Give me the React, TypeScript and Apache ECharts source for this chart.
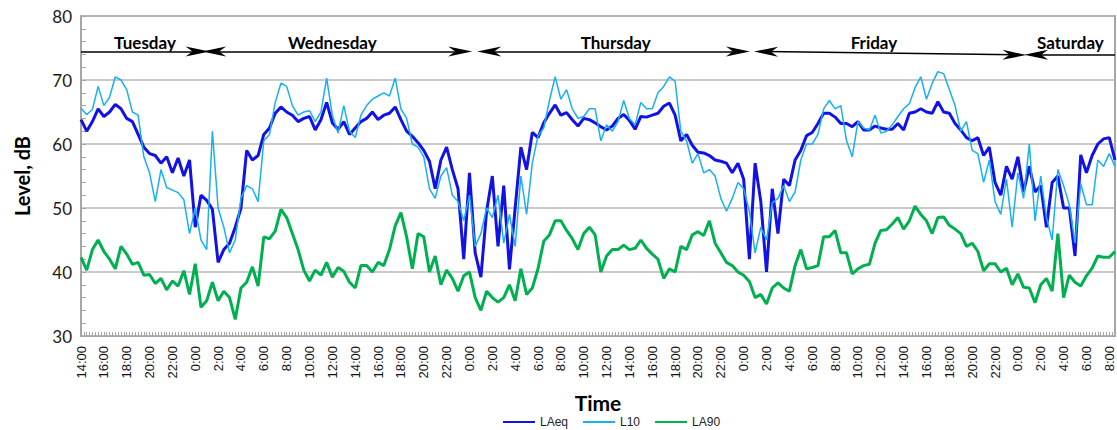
import React, { useEffect, useRef } from "react";
import * as echarts from "echarts";

// time axis: hours after Tuesday 14:00, one reading every half hour
const startHour = 14;
const stepHours = 0.5;

const laeq = [
  63.8, 62, 63.5, 65.5, 64.3, 65, 66.2, 65.5, 64, 63.5,
  61.5, 59.5, 58.5, 58.2, 57, 58, 55.5, 57.8, 55, 57.5,
  47, 52, 51.2, 49.8, 41.5, 43.5, 44.5, 47, 50, 59,
  57.5, 58.2, 61.5, 62.5, 64.8, 65.8, 65, 64.5, 63.5, 64,
  64.3, 62.2, 63.8, 66.5, 63.3, 62.3, 63.5, 61.5, 62.5, 63.5,
  64, 65, 63.8, 64.5, 64.8, 65.8, 63.8, 62, 61.2, 60.2,
  59, 57.3, 53, 57.5, 59.5, 56, 53, 42, 55.5, 43,
  39.2, 49.5, 55, 44, 53.5, 40.4, 50, 59.5, 56, 61.8,
  61, 63.3, 64.8, 66.1, 64.5, 64.9, 63.8, 62.8, 64, 63.8,
  63.3, 62.7, 62.2, 62.8, 64, 64.6, 63.7, 62.3, 64.3, 64.2,
  64.5, 64.8, 65.9, 66.4, 64.5, 60.5, 61.5, 59.8, 58.7, 58.6,
  58.2, 57.5, 57.3, 57, 55.5, 57, 54.5, 42, 57, 51,
  40, 53, 46, 54.5, 53.5, 57.5, 59, 61.3, 61.8, 63.2,
  64.8, 64.8, 64.2, 63.2, 63.2, 62.7, 63.5, 62.2, 62.2, 62.8,
  62.5, 62.3, 62.3, 63.2, 62.2, 64.8, 65, 65.5, 65, 64.8,
  66.6, 65, 64.8, 63.2, 62.2, 61, 60.5, 61, 58.2, 59.5,
  54, 52, 56.5, 54.5, 58, 52.5, 56.5, 52.5, 53.5, 47,
  54, 55, 50, 50, 42.5, 58.3, 55.5, 58.2, 60, 60.8,
  61, 57.5,
];

const l10 = [
  65.6, 64.6, 65.4, 69, 66, 67.3, 70.5, 70, 68.5, 65,
  64.5, 58, 55.5, 51, 56, 53.2, 52.8, 52.4, 51.3, 46,
  50, 45, 43.5, 62, 50, 47, 43, 45, 51.5, 53.5,
  53, 51, 60.5, 61.5, 66.5, 69.5, 69, 66, 64.5, 65,
  65.2, 63.5, 65, 70.3, 64.5, 61.7, 66, 62, 61, 64.5,
  66, 67, 67.5, 68, 67.5, 70.3, 65.5, 64, 60, 59.5,
  58, 53, 51.5, 55, 56.3, 52, 51, 48, 52, 44,
  46, 50, 48.5, 52, 44.5, 49, 44, 55, 49, 57,
  61.3, 62.5, 66.8, 70.5, 67, 68.5, 65.5, 64, 64.3, 65.5,
  65.5, 60.5, 63, 62, 63.5, 66.8, 64, 63, 66.5, 65.5,
  65.5, 68, 69, 70.5, 69.8, 62, 60.5, 57, 58.5, 55.5,
  56, 55, 51.5, 49.5, 51.5, 54, 53, 49.5, 43, 47,
  45, 50.8, 51.5, 53.5, 51, 52.5, 57.5, 60, 60, 61.5,
  65.5, 66.8, 65.5, 66, 60.5, 58, 63.5, 62.5, 62.2, 64.5,
  61.7, 62, 63, 64.3, 65.5, 66.3, 68.8, 70.5, 67, 69.5,
  71.3, 71, 68.5, 66, 62, 63.5, 59, 58.5, 54, 57.5,
  51, 49, 54.5, 47, 55.5, 51.5, 60, 48, 55, 48.5,
  45, 56, 53.5, 50.5, 44.5, 53.8, 50.5, 50.5, 57.5, 56.5,
  58.5, 56.5,
];

const la90 = [
  42.3, 40.3, 43.5, 45, 43.2, 42, 40.5, 44, 42.8, 41.2,
  41.5, 39.5, 39.6, 38.2, 39, 37.2, 38.6, 37.8, 40.2, 36.5,
  41.3, 34.5, 35.5, 38.4, 35.5, 37, 36, 32.6, 37.5, 38.4,
  40.8, 37.8, 45.5, 45.2, 46.4, 49.8, 48.5, 46, 43.5, 40.3,
  38.6, 40.3, 39.5, 41.5, 39.2, 40.7, 40.1, 38.4, 37.5, 41,
  41, 40, 41.5, 41, 43.5, 47.2, 49.3, 45.5, 40.5, 46,
  45.5, 40, 42.5, 38, 40.3, 39, 37, 39.4, 40, 36,
  34, 37, 36, 35.3, 36, 38, 35.5, 40.5, 36.5, 37.5,
  40.5, 44.8, 45.8, 48, 48, 46.5, 45.2, 43.5, 46, 47,
  45.8, 40, 42.5, 43.5, 43.5, 44.2, 43.5, 43.7, 45, 43.7,
  42.8, 42, 39, 40.5, 40, 44, 43.5, 45.8, 46.3, 45.7,
  48, 44.5, 43, 41.5, 41, 40, 39.5, 38.5, 36, 36.5,
  35, 37.5, 38.3, 37.5, 37, 41, 43.5, 40.5, 40.7, 41,
  45.5, 45.5, 46.5, 43, 43, 39.7, 40.5, 41, 41.2, 44.5,
  46.5, 46.6, 47.5, 48.5, 46.7, 48, 50.3, 49, 48, 46,
  48.5, 48.6, 47.3, 46.7, 46, 44, 44.5, 43.2, 40.2, 41.3,
  41.3, 40, 40.6, 38, 39.7, 37.6, 37.5, 35.2, 38, 39,
  37, 46, 36, 39.5, 38.4, 37.8, 39.4, 40.6, 42.5, 42.3,
  42.3, 43.2,
];

// day annotations (hours after Tuesday 14:00, levels in dB)
const dayNames = ["Tuesday", "Wednesday", "Thursday", "Friday", "Saturday"];
const dayLabelHours = [5.6, 22, 46.8, 69.4, 86.6];
const dayLabelLevel = 75.85;
const dayArrowStart = [0, 11.65, 35.73, 59.96, 83.6];
const dayArrowEnd = [10.2, 33.19, 57.5, 81.7, 90.5];
const dayLineStartLevel = [74.44, 74.44, 74.44, 74.44, 73.93];
const dayLineEndLevel = [74.44, 74.44, 74.44, 73.93, 73.93];

const yMin = 30;
const yMax = 80;
const xMax = 90.5;

const ARROW = "path://M0,0 L10,24 L0,17 L-10,24 Z";
const LABEL_FONT = "Lato, 'Open Sans', sans-serif";
const TICK_FONT = "'Liberation Sans', Arial, sans-serif";

const toPairs = (arr: number[]) => arr.map((v, i) => [i * stepHours, v]);

export default function App() {
  const ref = useRef<HTMLDivElement>(null);

  useEffect(() => {
    document.body.style.margin = "0";
    if (!ref.current) return;
    const chart = echarts.init(ref.current, undefined, { renderer: "svg" });

    const markLineData = dayNames.map((_, i) => [
      {
        coord: [dayArrowStart[i], dayLineStartLevel[i]],
        symbol: i === 0 ? "none" : ARROW,
      },
      {
        coord: [dayArrowEnd[i], dayLineEndLevel[i]],
        symbol: i === dayNames.length - 1 ? "none" : ARROW,
      },
    ]);

    const markPointData = dayNames.map((name, i) => ({
      name,
      coord: [dayLabelHours[i], dayLabelLevel],
    }));

    chart.setOption({
      animation: false,
      backgroundColor: "#ffffff",
      grid: {
        left: 81,
        right: 2,
        top: 16,
        bottom: 94,
        show: true,
        borderColor: "#a6a6a6",
        borderWidth: 2,
      },
      legend: {
        data: ["LAeq", "L10", "LA90"],
        left: 497,
        top: 411,
        itemWidth: 32,
        itemHeight: 12,
        itemGap: 14,
        itemStyle: { opacity: 0 },
        textStyle: { fontFamily: TICK_FONT, fontSize: 12, color: "#222" },
      },
      xAxis: {
        type: "value",
        min: 0,
        max: xMax,
        interval: 0.25,
        name: "Time",
        nameLocation: "middle",
        nameGap: 56,
        nameTextStyle: {
          fontFamily: LABEL_FONT,
          fontWeight: "bold",
          fontSize: 21,
          color: "#000",
        },
        axisLine: { lineStyle: { color: "#a6a6a6", width: 1 } },
        axisTick: { inside: true, length: 4, lineStyle: { color: "#a6a6a6" } },
        splitLine: { show: false },
        axisLabel: {
          rotate: 90,
          margin: 10,
          fontFamily: TICK_FONT,
          fontSize: 13,
          color: "#111",
          showMaxLabel: false,
          formatter: (v: number) => {
            const q = Math.round(v * 4);
            if (q % 8 !== 0) return "";
            return `${(startHour + q / 4) % 24}:00`;
          },
        },
      },
      yAxis: {
        type: "value",
        min: yMin,
        max: yMax,
        interval: 10,
        name: "Level, dB",
        nameLocation: "middle",
        nameGap: 49,
        nameTextStyle: {
          fontFamily: LABEL_FONT,
          fontWeight: "bold",
          fontSize: 20,
          color: "#000",
        },
        axisLine: { show: true, lineStyle: { color: "#a6a6a6", width: 1 } },
        axisTick: { show: true, inside: true, length: 5, lineStyle: { color: "#a6a6a6" } },
        minorTick: { show: true, splitNumber: 5, length: 5, lineStyle: { color: "#a6a6a6" } },
        splitLine: { show: true, lineStyle: { color: "#b8b8b8", width: 1.5 } },
        axisLabel: {
          margin: 9,
          fontFamily: LABEL_FONT,
          fontSize: 17,
          color: "#1a1a1a",
        },
      },
      series: [
        {
          name: "LAeq",
          type: "line",
          data: toPairs(laeq),
          symbol: "none",
          showSymbol: false,
          lineStyle: { color: "#1212e6", width: 3 },
          itemStyle: { color: "#1212e6" },
          z: 3,
          markLine: {
            silent: true,
            animation: false,
            symbolSize: [10, 24],
            label: { show: false },
            lineStyle: { color: "#000", width: 1.5, type: "solid" },
            emphasis: { disabled: true },
            data: markLineData,
          },
          markPoint: {
            silent: true,
            animation: false,
            symbol: "circle",
            symbolSize: 1,
            itemStyle: { color: "rgba(0,0,0,0)" },
            label: {
              show: true,
              position: "inside",
              formatter: (p: any) => p.name,
              fontFamily: LABEL_FONT,
              fontWeight: "bold",
              fontSize: 17,
              color: "#000",
            },
            data: markPointData,
          },
        },
        {
          name: "L10",
          type: "line",
          data: toPairs(l10),
          symbol: "none",
          showSymbol: false,
          lineStyle: { color: "#18b0f0", width: 1.5 },
          itemStyle: { color: "#18b0f0" },
          z: 4,
        },
        {
          name: "LA90",
          type: "line",
          data: toPairs(la90),
          symbol: "none",
          showSymbol: false,
          lineStyle: { color: "#00b050", width: 3 },
          itemStyle: { color: "#00b050" },
          z: 5,
        },
      ],
    });

    return () => chart.dispose();
  }, []);

  return (
    <div
      ref={ref}
      style={{ position: "fixed", left: 0, top: 0, width: 1117, height: 430 }}
    />
  );
}
